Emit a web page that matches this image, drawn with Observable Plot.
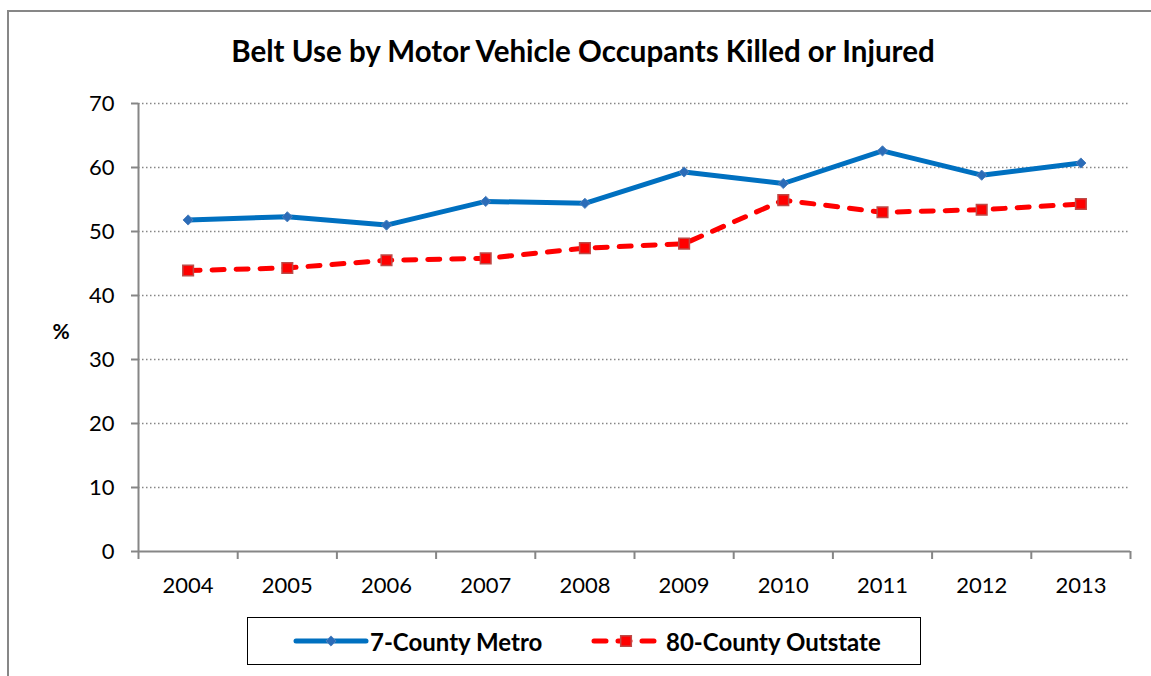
<!DOCTYPE html>
<html>
<head>
<meta charset="utf-8">
<script src="https://cdn.jsdelivr.net/npm/d3@7"></script>
<script src="https://cdn.jsdelivr.net/npm/@observablehq/plot@0.6"></script>
<style>
  body { margin: 0; background: #fff; font-family: Lato, "Open Sans", sans-serif; }
  #wrap { position: relative; width: 1151px; height: 676px; overflow: hidden; background: #fff; }
  #frame { position: absolute; left: 7px; top: 10px; width: 1300px; height: 800px;
           border-left: 2px solid #878787; border-top: 2px solid #878787; }
  #title { position: absolute; left: 0; top: 33px; width: 1166px; text-align: center;
           font-size: 29.5px; line-height: 36px; font-weight: bold; color: #000; }
  #ylabel { position: absolute; left: 46px; top: 318px; width: 30px; text-align: center;
            font-size: 21px; line-height: 26px; font-weight: bold; }
  #chart { position: absolute; left: 0; top: 80px; }
  #legend { position: absolute; left: 247px; top: 617px; width: 672px; height: 46px;
            border: 1.5px solid #000; background: #fff; }
  .lg-item { position: absolute; top: 0; height: 46px; display: flex; align-items: center;
             font-size: 24px; font-weight: bold; }
</style>
</head>
<body>
<div id="wrap">
  <div id="frame"></div>
  <div id="title">Belt Use by Motor Vehicle Occupants Killed or Injured</div>
  <div id="ylabel">%</div>
  <div id="chart"></div>
  <div id="legend"></div>
</div>
<script>
const years = [2004, 2005, 2006, 2007, 2008, 2009, 2010, 2011, 2012, 2013];
const metro = [51.8, 52.3, 51.0, 54.7, 54.4, 59.3, 57.5, 62.6, 58.8, 60.7];
const outstate = [43.9, 44.3, 45.5, 45.8, 47.4, 48.1, 54.9, 53.0, 53.4, 54.3];
const seriesNames = ["7-County Metro", "80-County Outstate"];
const yTicks = [0, 10, 20, 30, 40, 50, 60, 70];

const metroData = years.map((y, i) => ({year: y, value: metro[i]}));
const outData = years.map((y, i) => ({year: y, value: outstate[i]}));
const boundaries = [...years.map(y => y - 0.5), years[years.length - 1] + 0.5];
const gray = "#868686";

const chart = Plot.plot({
  width: 1151,
  height: 540,
  marginTop: 23,
  marginBottom: 69,
  marginLeft: 138,
  marginRight: 21,
  style: {fontFamily: "Lato, 'Open Sans', sans-serif", background: "transparent", overflow: "visible"},
  x: {domain: [boundaries[0], boundaries[boundaries.length - 1]], axis: null},
  y: {domain: [0, 70], axis: null},
  marks: [
    Plot.ruleY(yTicks.filter(d => d > 0), {stroke: gray, strokeWidth: 1.5, strokeDasharray: "1.5,2.5"}),
    Plot.ruleX([boundaries[0]], {stroke: gray, strokeWidth: 2}),
    Plot.ruleY([0], {stroke: gray, strokeWidth: 2}),
    Plot.axisY(yTicks, {anchor: "left", label: null, tickSize: 7, tickPadding: 17, stroke: gray, strokeWidth: 2, fontSize: 22, tickFormat: d => String(d)}),
    Plot.axisX(boundaries, {anchor: "bottom", label: null, tickSize: 8, stroke: gray, strokeWidth: 2, tickFormat: () => ""}),
    Plot.axisX(years, {anchor: "bottom", label: null, tickSize: 0, tickPadding: 26, fontSize: 22, tickFormat: d => String(d)}),
    Plot.line(outData, {x: "year", y: "value", stroke: "#FF0000", strokeWidth: 5, strokeDasharray: "12,12", strokeLinecap: "round"}),
    Plot.line(metroData, {x: "year", y: "value", stroke: "#0070C0", strokeWidth: 5}),
    Plot.dot(metroData, {x: "year", y: "value", symbol: "diamond2", r: 4.6, fill: "#2B6CB8", stroke: "#4F81BD", strokeWidth: 1}),
    Plot.dot(outData, {x: "year", y: "value", symbol: "square", r: 6, fill: "#FF0000", stroke: "#BE4B48", strokeWidth: 1.5})
  ]
});
document.getElementById("chart").appendChild(chart);

// legend
const legend = document.getElementById("legend");
function addItem(left, name, drawSwatch) {
  const item = document.createElement("div");
  item.className = "lg-item";
  item.style.left = left + "px";
  const sw = d3.create("svg").attr("width", 76).attr("height", 20).style("margin-right", "1px");
  drawSwatch(sw);
  item.appendChild(sw.node());
  const t = document.createElement("span");
  t.textContent = name;
  item.appendChild(t);
  legend.appendChild(item);
}
addItem(45, seriesNames[0], sw => {
  sw.append("line").attr("x1", 3).attr("x2", 73).attr("y1", 10).attr("y2", 10)
    .attr("stroke", "#0070C0").attr("stroke-width", 5).attr("stroke-linecap", "round");
  sw.append("path").attr("d", d3.symbol(d3.symbolDiamond2, Math.PI * 4.6 * 4.6)())
    .attr("transform", "translate(38,10)").attr("fill", "#2B6CB8").attr("stroke", "#4F81BD");
});
addItem(341, seriesNames[1], sw => {
  sw.append("line").attr("x1", 5).attr("x2", 73).attr("y1", 10).attr("y2", 10)
    .attr("stroke", "#FF0000").attr("stroke-width", 5).attr("stroke-linecap", "round")
    .attr("stroke-dasharray", "12,12");
  sw.append("path").attr("d", d3.symbol(d3.symbolSquare, Math.PI * 36)())
    .attr("transform", "translate(37,10)").attr("fill", "#FF0000").attr("stroke", "#BE4B48").attr("stroke-width", 1.5);
});
</script>
</body>
</html>
